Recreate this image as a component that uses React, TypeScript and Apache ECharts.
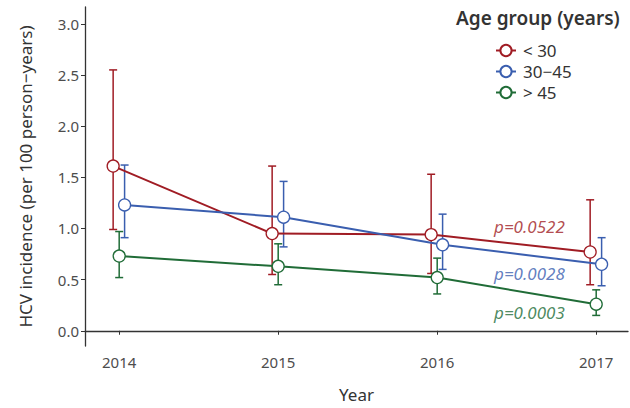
import React, { useEffect, useRef } from "react";
import * as echarts from "echarts";

const years = [2014, 2015, 2016, 2017];
const yTicks = [0, 0.5, 1.0, 1.5, 2.0, 2.5, 3.0];

const groupNames = ["< 30", "30−45", "> 45"];
const under30 = [1.61, 0.95, 0.94, 0.77];
const under30Low = [0.99, 0.55, 0.56, 0.45];
const under30High = [2.55, 1.61, 1.53, 1.28];
const mid = [1.23, 1.11, 0.84, 0.65];
const midLow = [0.91, 0.82, 0.6, 0.44];
const midHigh = [1.62, 1.46, 1.14, 0.91];
const over45 = [0.73, 0.63, 0.52, 0.26];
const over45Low = [0.52, 0.45, 0.36, 0.15];
const over45High = [0.97, 0.85, 0.71, 0.4];
const pLabels = ["p=0.0522", "p=0.0028", "p=0.0003"];
const pLabelYear = 2016.58;
const pLabelY = [1.015, 0.56, 0.18];

const COLORS = ["#a01c24", "#3a5eaf", "#206c37"];
const DODGE = [-0.038, 0.034, 0];
const FONT = "Noto Sans";

export default function App() {
  const ref = useRef<HTMLDivElement>(null);
  useEffect(() => {
    if (!ref.current) return;
    const chart = echarts.init(ref.current, undefined, { renderer: "svg" });
    const groups = [
      { name: groupNames[0], v: under30, lo: under30Low, hi: under30High },
      { name: groupNames[1], v: mid, lo: midLow, hi: midHigh },
      { name: groupNames[2], v: over45, lo: over45Low, hi: over45High },
    ];
    const series: any[] = [];
    groups.forEach((g, i) => {
      series.push({
        type: "custom",
        name: g.name + " err",
        z: 1,
        silent: true,
        data: years.map((yr, k) => [yr + DODGE[i], g.lo[k], g.hi[k]]),
        renderItem: (params: any, api: any) => {
          const x = api.value(0);
          const lo = api.coord([x, api.value(1)]);
          const hi = api.coord([x, api.value(2)]);
          const w = 4;
          const style = { stroke: COLORS[i], lineWidth: 1.5 };
          return {
            type: "group",
            children: [
              { type: "line", shape: { x1: lo[0], y1: lo[1], x2: hi[0], y2: hi[1] }, style },
              { type: "line", shape: { x1: hi[0] - w, y1: hi[1], x2: hi[0] + w, y2: hi[1] }, style },
              { type: "line", shape: { x1: lo[0] - w, y1: lo[1], x2: lo[0] + w, y2: lo[1] }, style },
            ],
          };
        },
      });
    });
    groups.forEach((g, i) => {
      series.push({
        type: "line",
        name: g.name,
        z: 3,
        data: years.map((yr, k) => [yr + DODGE[i], g.v[k]]),
        symbol: "circle",
        symbolSize: 12,
        lineStyle: { color: COLORS[i], width: 2 },
        itemStyle: { color: "#ffffff", borderColor: COLORS[i], borderWidth: 1.3 },
      });
    });
    series.push({
      type: "scatter",
      name: "pvalues",
      z: 4,
      symbolSize: 0,
      silent: true,
      data: pLabels.map((t, i) => ({
        value: [pLabelYear, pLabelY[i]],
        label: {
          show: true,
          position: "inside",
          formatter: t,
          color: COLORS[i],
          fontStyle: "italic",
          fontSize: 17,
          fontFamily: FONT,
        },
      })),
    });

    chart.setOption({
      animation: false,
      title: {
        text: "Age group (years)",
        left: 451,
        top: 3,
        textStyle: { fontFamily: FONT, fontSize: 19, fontWeight: 600, color: "#333333" },
      },
      legend: {
        data: groupNames,
        orient: "vertical",
        left: 490,
        top: 37,
        itemGap: 4,
        itemWidth: 20,
        itemHeight: 14,
        textStyle: {
          fontFamily: FONT,
          fontSize: 17,
          lineHeight: 17,
          color: "#333333",
          padding: [0, 0, 0, 2],
        },
      },
      grid: { left: 85, right: 2, top: 7, bottom: 60, containLabel: false },
      xAxis: {
        type: "value",
        min: 2013.785,
        max: 2017.2,
        name: "Year",
        nameLocation: "middle",
        nameGap: 40,
        nameTextStyle: { fontFamily: FONT, fontSize: 17, color: "#333333" },
        splitLine: { show: false },
        axisLine: { lineStyle: { color: "#333333", width: 1.3 } },
        axisTick: { show: true, length: 4, customValues: years, lineStyle: { color: "#333333" } },
        axisLabel: {
          customValues: years,
          margin: 8,
          fontFamily: FONT,
          fontSize: 15,
          color: "#4d4d4d",
          formatter: (v: number) => String(Math.round(v)),
        },
      },
      yAxis: {
        type: "value",
        min: -0.149,
        max: 3.165,
        name: "HCV incidence (per 100 person−years)",
        nameLocation: "middle",
        nameGap: 51,
        nameTextStyle: { fontFamily: FONT, fontSize: 17, color: "#333333" },
        splitLine: { show: false },
        axisLine: { show: true, lineStyle: { color: "#333333", width: 1.3 } },
        axisTick: { show: true, length: 4, customValues: yTicks, lineStyle: { color: "#333333" } },
        axisLabel: {
          customValues: yTicks,
          margin: 6,
          fontFamily: FONT,
          fontSize: 15,
          color: "#4d4d4d",
          formatter: (v: number) => v.toFixed(1),
        },
      },
      series,
    });
    return () => chart.dispose();
  }, []);
  return <div ref={ref} style={{ width: 630, height: 408, position: "absolute", left: 0, top: 0 }} />;
}
